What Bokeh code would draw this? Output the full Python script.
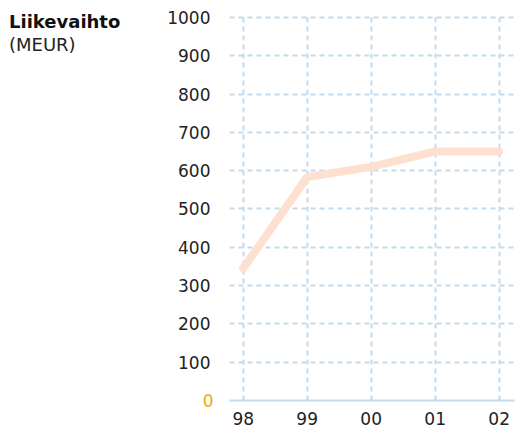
from bokeh.plotting import figure
from bokeh.models import FixedTicker, Range1d, LinearAxis, Div
from bokeh.layouts import row
from bokeh.embed import file_html
from bokeh.resources import INLINE

years = ["98", "99", "00", "01", "02"]
revenue = [345, 583, 610, 650, 650]
y_ticks = [100, 200, 300, 400, 500, 600, 700, 800, 900, 1000]
zero_tick = [0]
title_main = "Liikevaihto"
title_unit = "(MEUR)"

xs = list(range(len(years)))
FONT = "DejaVu Sans"

p = figure(width=365, height=431, output_backend="svg", toolbar_location=None,
           x_range=Range1d(-0.214, 4.24), y_range=Range1d(0, 1005),
           min_border_left=79, min_border_right=1, min_border_top=15, min_border_bottom=31,
           y_axis_location=None)
p.outline_line_color = None
p.background_fill_color = "white"

grid_color = "#c3dbec"
p.xgrid.ticker = FixedTicker(ticks=xs)
p.ygrid.ticker = FixedTicker(ticks=y_ticks)
for g in (p.xgrid, p.ygrid):
    g.grid_line_color = grid_color
    g.grid_line_width = 2
    g.grid_line_dash = "5 4"

p.line(xs, revenue, line_color="#fde0cf", line_width=8, line_cap="round", line_join="round")

ax = p.xaxis[0]
ax.ticker = FixedTicker(ticks=xs)
ax.major_label_overrides = {i: y for i, y in enumerate(years)}
ax.axis_line_color = grid_color
ax.axis_line_width = 2
ax.major_tick_line_color = None
ax.minor_tick_line_color = None
ax.major_tick_out = 0
ax.major_label_standoff = 11
ax.major_label_text_font = FONT
ax.major_label_text_font_size = "17px"
ax.major_label_text_color = "#222222"

def style_y(a, color, standoff):
    a.axis_line_color = None
    a.major_tick_line_color = None
    a.minor_tick_line_color = None
    a.major_tick_out = 0
    a.major_label_standoff = standoff
    a.major_label_text_font = FONT
    a.major_label_text_font_size = "17px"
    a.major_label_text_color = color

# inner axis: orange zero label
a0 = LinearAxis(ticker=FixedTicker(ticks=zero_tick))
style_y(a0, "#f2a900", 16)
p.add_layout(a0, "left")
# outer axis: 100..1000, pulled back so labels align with the zero label
a1 = LinearAxis(ticker=FixedTicker(ticks=y_ticks))
style_y(a1, "#222222", -11)
p.add_layout(a1, "left")

div = Div(text=(
    f'<div style="font-family:\'DejaVu Sans\';font-size:18px;line-height:23px;color:#111;'
    f'padding-top:10px;padding-left:9px;">'
    f'<b>{title_main}</b><br><span style="color:#222">{title_unit}</span></div>'),
    width=150, height=431, margin=0)

layout = row(div, p, spacing=0)
open("out.html", "w").write(file_html(layout, INLINE))
